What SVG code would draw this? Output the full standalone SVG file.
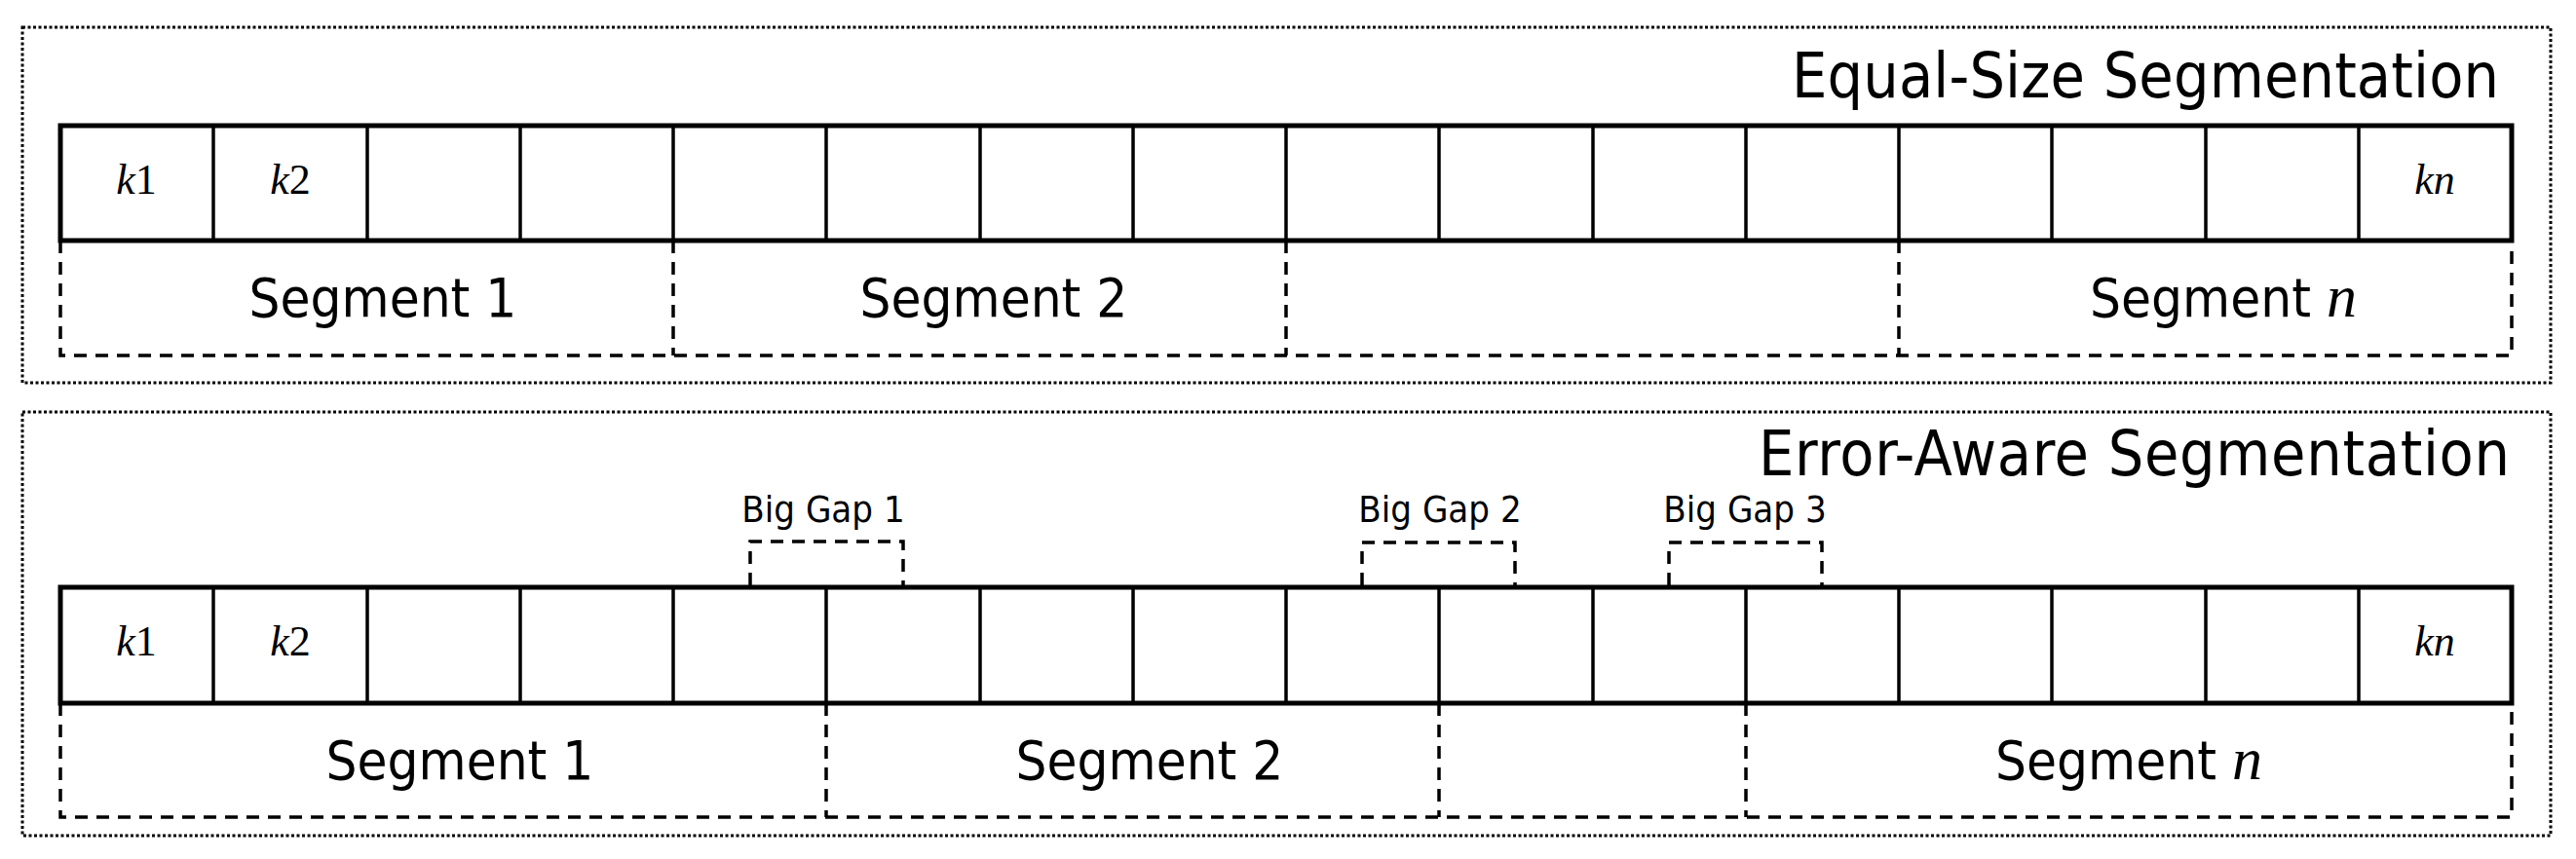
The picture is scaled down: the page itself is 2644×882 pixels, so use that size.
<svg xmlns="http://www.w3.org/2000/svg" width="2644" height="882" viewBox="0 0 2644 882">
<style>
.frame{fill:none;stroke:#000;stroke-width:3;stroke-dasharray:3 2.5}
.arr{fill:none;stroke:#000;stroke-width:5}
.cell{stroke:#000;stroke-width:3.5}
.seg{fill:none;stroke:#000;stroke-width:3.5;stroke-dasharray:13 9}
.t{font-family:"DejaVu Sans Condensed","DejaVu Sans",sans-serif;fill:#000}
.k{font-family:"Liberation Serif",serif;font-style:italic;font-size:44px;text-anchor:middle}
</style>
<rect x="0" y="0" width="2644" height="882" fill="#fff"/>
<g id="equal">
<rect class="frame" x="23" y="28" width="2595" height="365"/>
<text class="t" x="2565" y="100" font-size="64" text-anchor="end" textLength="726">Equal-Size Segmentation</text>
<rect class="arr" x="62" y="129" width="2516" height="118"/>
<g class="cell">
<line x1="219" y1="129" x2="219" y2="247"/><line x1="377" y1="129" x2="377" y2="247"/><line x1="534" y1="129" x2="534" y2="247"/><line x1="691" y1="129" x2="691" y2="247"/><line x1="848" y1="129" x2="848" y2="247"/><line x1="1006" y1="129" x2="1006" y2="247"/><line x1="1163" y1="129" x2="1163" y2="247"/><line x1="1320" y1="129" x2="1320" y2="247"/><line x1="1477" y1="129" x2="1477" y2="247"/><line x1="1635" y1="129" x2="1635" y2="247"/><line x1="1792" y1="129" x2="1792" y2="247"/><line x1="1949" y1="129" x2="1949" y2="247"/><line x1="2106" y1="129" x2="2106" y2="247"/><line x1="2264" y1="129" x2="2264" y2="247"/><line x1="2421" y1="129" x2="2421" y2="247"/>
</g>
<text class="k" x="140" y="199">k<tspan font-style="normal">1</tspan></text>
<text class="k" x="298" y="199">k<tspan font-style="normal">2</tspan></text>
<text class="k" x="2499" y="199">kn</text>
<path class="seg" d="M62 247V365H2578V247M691 247V365M1320 247V365M1949 247V365"/>
<text class="t" x="393" y="325" font-size="56" text-anchor="middle">Segment 1</text>
<text class="t" x="1020" y="325" font-size="56" text-anchor="middle">Segment 2</text>
<text class="t" x="2282" y="325" font-size="56" text-anchor="middle">Segment <tspan font-family="Liberation Serif,serif" font-style="italic" font-size="62">n</tspan></text>
</g>
<g id="error">
<rect class="frame" x="23" y="423" width="2595" height="435"/>
<text class="t" x="2576" y="488" font-size="64" text-anchor="end" textLength="771">Error-Aware Segmentation</text>
<rect class="arr" x="62" y="603" width="2516" height="119"/>
<g class="cell">
<line x1="219" y1="603" x2="219" y2="722"/><line x1="377" y1="603" x2="377" y2="722"/><line x1="534" y1="603" x2="534" y2="722"/><line x1="691" y1="603" x2="691" y2="722"/><line x1="848" y1="603" x2="848" y2="722"/><line x1="1006" y1="603" x2="1006" y2="722"/><line x1="1163" y1="603" x2="1163" y2="722"/><line x1="1320" y1="603" x2="1320" y2="722"/><line x1="1477" y1="603" x2="1477" y2="722"/><line x1="1635" y1="603" x2="1635" y2="722"/><line x1="1792" y1="603" x2="1792" y2="722"/><line x1="1949" y1="603" x2="1949" y2="722"/><line x1="2106" y1="603" x2="2106" y2="722"/><line x1="2264" y1="603" x2="2264" y2="722"/><line x1="2421" y1="603" x2="2421" y2="722"/>
</g>
<text class="k" x="140" y="673">k<tspan font-style="normal">1</tspan></text>
<text class="k" x="298" y="673">k<tspan font-style="normal">2</tspan></text>
<text class="k" x="2499" y="673">kn</text>
<path class="seg" d="M62 722V839H2578V722M848 722V839M1477 722V839M1792 722V839"/>
<text class="t" x="472" y="800" font-size="56" text-anchor="middle">Segment 1</text>
<text class="t" x="1180" y="800" font-size="56" text-anchor="middle">Segment 2</text>
<text class="t" x="2185" y="800" font-size="56" text-anchor="middle">Segment <tspan font-family="Liberation Serif,serif" font-style="italic" font-size="62">n</tspan></text>
</g>
<g id="gap1">
<path class="seg" d="M770 601V556H927V601"/>
<text class="t" x="845" y="536" font-size="38" text-anchor="middle">Big Gap 1</text>
</g>
<g id="gap2">
<path class="seg" d="M1398 601V557H1555V601"/>
<text class="t" x="1478" y="536" font-size="38" text-anchor="middle">Big Gap 2</text>
</g>
<g id="gap3">
<path class="seg" d="M1713 601V557H1870V601"/>
<text class="t" x="1791" y="536" font-size="38" text-anchor="middle">Big Gap 3</text>
</g>
</svg>
